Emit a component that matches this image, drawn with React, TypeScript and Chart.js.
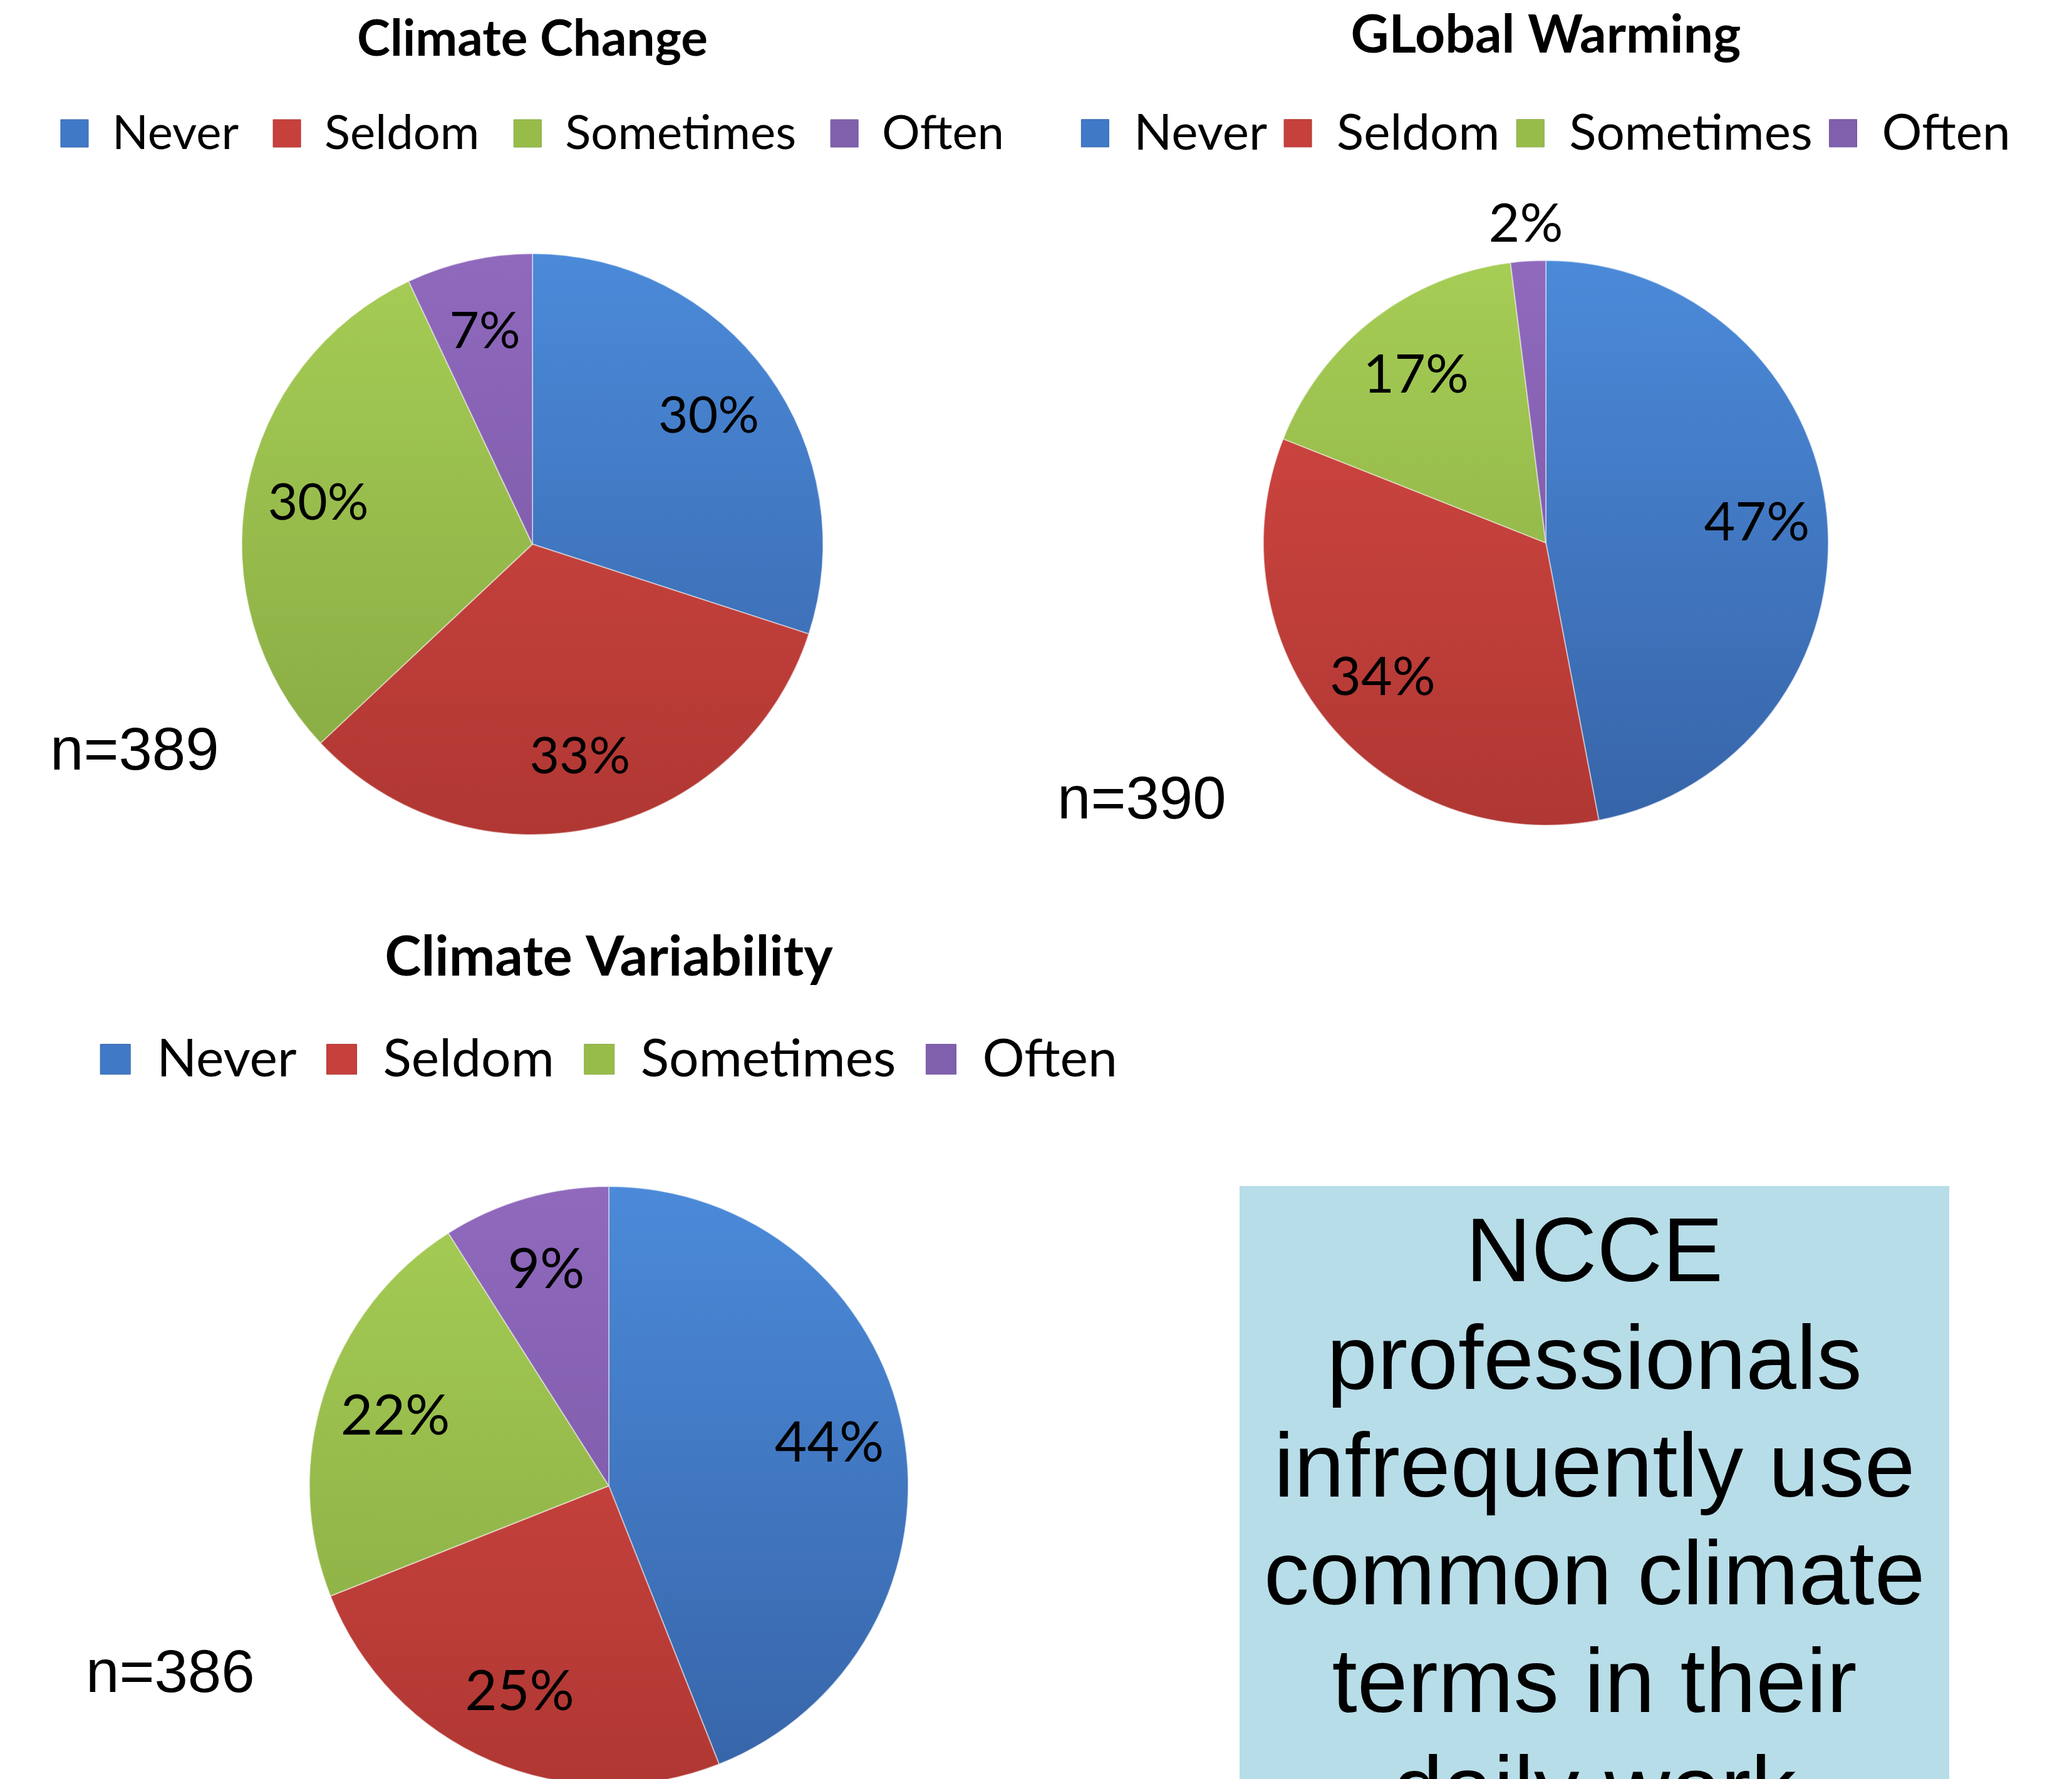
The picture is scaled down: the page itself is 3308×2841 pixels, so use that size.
import React, { useEffect, useRef } from "react";
import { Chart, registerables } from "chart.js";

Chart.register(...registerables);

// ---------- data ----------
const categories = ["Never", "Seldom", "Sometimes", "Often"];
const climateChangeValues = [30, 33, 30, 7];
const globalWarmingValues = [47, 34, 17, 2];
const climateVariabilityValues = [44, 25, 22, 9];
const chartTitles = ["Climate Change", "GLobal Warming", "Climate Variability"];
const sampleSizes = ["n=389", "n=390", "n=386"];
const noteLines = ["NCCE", "professionals", "infrequently use", "common climate", "terms in their", "daily work"];

// ---------- styles ----------
const topColors = ["#4b8ad9", "#d64943", "#a6cd55", "#9069bd"];
const bottomColors = ["#3764a8", "#b03733", "#86a842", "#7554a0"];
const solidColors = ["#4079c6", "#c6403c", "#98bc4a", "#8060ac"];
const UI_FONT = "Lato, 'Open Sans', sans-serif";
const NOTE_FONT = "'Liberation Sans', Arial, Helvetica, sans-serif";

type PieSpec = {
  title: string;
  values: number[];
  left: number;
  top: number;
  width: number;
  height: number;
  radius: number;
  titleSize: number;
  titlePadTop: number;
  titlePadBottom: number;
  legendSize: number;
  legendBox: number;
  legendPad: number;
  labelSize: number;
};

const specs: PieSpec[] = [
  {
    title: chartTitles[0], values: climateChangeValues,
    left: -30, top: 0, width: 1760, height: 1477, radius: 464,
    titleSize: 80, titlePadTop: 15, titlePadBottom: 9,
    legendSize: 76, legendBox: 44, legendPad: 55, labelSize: 82,
  },
  {
    title: chartTitles[1], values: globalWarmingValues,
    left: 1628, top: 0, width: 1680, height: 1471, radius: 451,
    titleSize: 84, titlePadTop: 7, titlePadBottom: 38,
    legendSize: 80, legendBox: 44, legendPad: 27, labelSize: 86,
  },
  {
    title: chartTitles[2], values: climateVariabilityValues,
    left: 22, top: 1450, width: 1900, height: 1552, radius: 478,
    titleSize: 88, titlePadTop: 27, titlePadBottom: 19,
    legendSize: 84, legendBox: 48, legendPad: 48, labelSize: 89,
  },
];

const pieLabels = {
  id: "pieLabels",
  afterDatasetsDraw(chart: any, _args: any, opts: any) {
    const meta = chart.getDatasetMeta(0);
    const data = chart.data.datasets[0].data as number[];
    const ctx = chart.ctx as CanvasRenderingContext2D;
    ctx.save();
    ctx.font = `${opts.size}px ${UI_FONT}`;
    ctx.fillStyle = "#000";
    ctx.textAlign = "center";
    ctx.textBaseline = "middle";
    meta.data.forEach((arc: any, i: number) => {
      const p = arc.getProps(["x", "y", "startAngle", "endAngle", "outerRadius"], true);
      const mid = (p.startAngle + p.endAngle) / 2;
      const v = data[i];
      const f = v < 5 ? 1.13 : 0.75;
      ctx.fillText(`${v}%`, p.x + Math.cos(mid) * p.outerRadius * f, p.y + Math.sin(mid) * p.outerRadius * f);
    });
    ctx.restore();
  },
};

function makeFill(spec: PieSpec) {
  return (c: any) => {
    const chart = c.chart;
    const i = c.dataIndex ?? 0;
    const area = chart.chartArea;
    if (!area) return solidColors[i];
    const cy = (area.top + area.bottom) / 2;
    const g = chart.ctx.createLinearGradient(0, cy - spec.radius, 0, cy + spec.radius);
    g.addColorStop(0, topColors[i]);
    g.addColorStop(1, bottomColors[i]);
    return g;
  };
}

function PieCanvas({ spec }: { spec: PieSpec }) {
  const ref = useRef<HTMLCanvasElement | null>(null);
  useEffect(() => {
    let chart: Chart | null = null;
    let cancelled = false;
    const build = () => {
      if (cancelled || !ref.current) return;
      chart = new Chart(ref.current, {
        type: "pie",
        data: {
          labels: categories,
          datasets: [
            {
              data: spec.values,
              backgroundColor: makeFill(spec) as any,
              borderColor: "rgba(255,255,255,0.45)",
              borderWidth: 2,
            },
          ],
        },
        plugins: [pieLabels as any],
        options: {
          responsive: false,
          animation: false,
          devicePixelRatio: 1,
          radius: spec.radius,
          layout: { padding: 0 },
          plugins: {
            tooltip: { enabled: false },
            title: {
              display: true,
              text: spec.title,
              color: "#000",
              font: { family: UI_FONT, size: spec.titleSize, weight: "bold", lineHeight: 1.2 },
              padding: { top: spec.titlePadTop, bottom: spec.titlePadBottom },
            },
            legend: {
              display: true,
              position: "top",
              labels: {
                color: "#000",
                font: { family: UI_FONT, size: spec.legendSize },
                boxWidth: spec.legendBox,
                boxHeight: spec.legendBox,
                padding: spec.legendPad,
                generateLabels: () =>
                  categories.map((text, i) => ({
                    text,
                    fillStyle: solidColors[i],
                    strokeStyle: bottomColors[i],
                    lineWidth: 1,
                    hidden: false,
                    index: i,
                    datasetIndex: 0,
                  })),
              },
            },
            pieLabels: { size: spec.labelSize },
          } as any,
        },
      });
    };
    const fontsApi = (document as any).fonts;
    if (fontsApi && fontsApi.load) {
      Promise.all([fontsApi.load(`bold 80px Lato`), fontsApi.load(`80px Lato`)])
        .catch(() => null)
        .then(build);
    } else {
      build();
    }
    return () => {
      cancelled = true;
      if (chart) chart.destroy();
    };
  }, [spec]);
  return (
    <canvas
      ref={ref}
      width={spec.width}
      height={spec.height}
      style={{ position: "absolute", left: spec.left, top: spec.top, width: spec.width, height: spec.height }}
    />
  );
}

const nLabelPos = [
  { left: 80, top: 1148 },
  { left: 1688, top: 1226 },
  { left: 137, top: 2621 },
];

export default function App() {
  return (
    <div
      style={{
        position: "absolute",
        left: 0,
        top: 0,
        width: 3308,
        height: 2841,
        overflow: "hidden",
        background: "#fff",
      }}
    >
      {specs.map((s, i) => (
        <PieCanvas key={i} spec={s} />
      ))}
      {sampleSizes.map((t, i) => (
        <div
          key={t}
          style={{
            position: "absolute",
            left: nLabelPos[i].left,
            top: nLabelPos[i].top,
            fontFamily: NOTE_FONT,
            fontSize: 96,
            lineHeight: "96px",
            color: "#000",
            whiteSpace: "nowrap",
          }}
        >
          {t}
        </div>
      ))}
      <div
        style={{
          position: "absolute",
          left: 1979,
          top: 1894,
          width: 1133,
          height: 1000,
          background: "#b7dde8",
          overflow: "hidden",
        }}
      >
        <div
          style={{
            paddingTop: 16,
            fontFamily: NOTE_FONT,
            fontSize: 145,
            lineHeight: "172px",
            color: "#000",
            textAlign: "center",
            whiteSpace: "nowrap",
          }}
        >
          {noteLines.map((l) => (
            <div key={l}>{l}</div>
          ))}
        </div>
      </div>
    </div>
  );
}
